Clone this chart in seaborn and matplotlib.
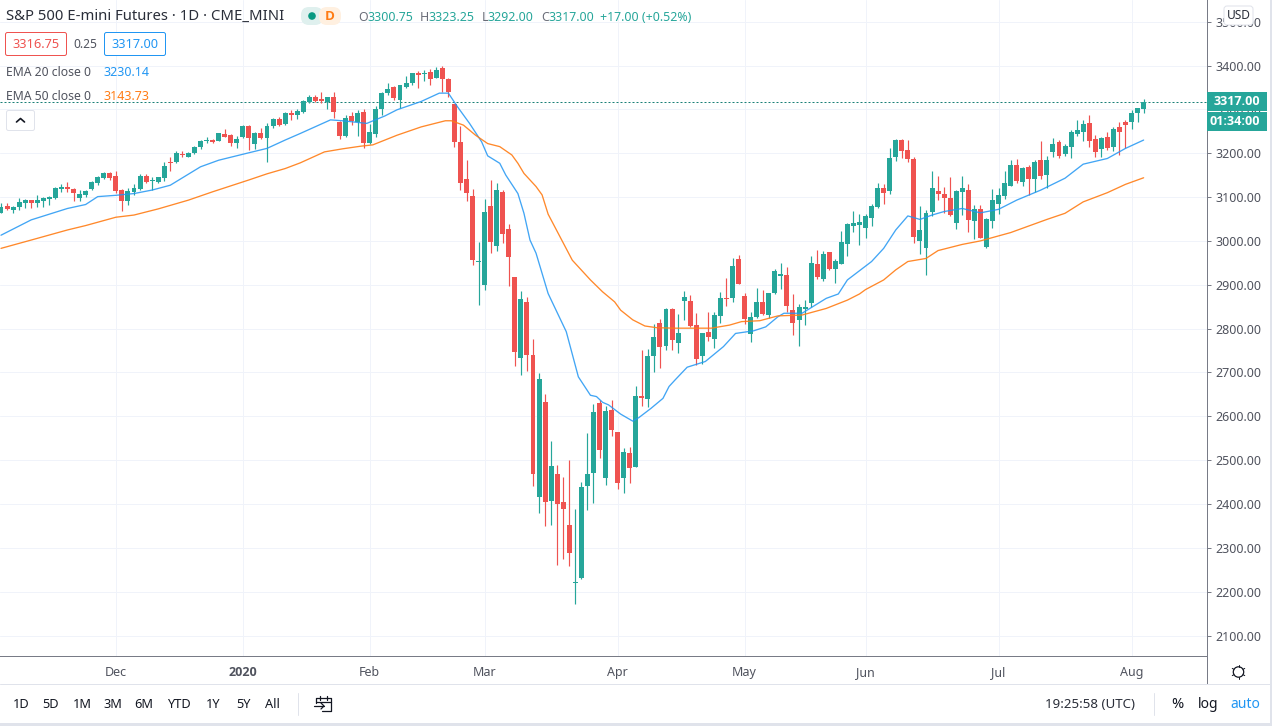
import numpy as np
import pandas as pd
import matplotlib.pyplot as plt
from matplotlib.patches import FancyBboxPatch, Rectangle, Circle
from matplotlib.transforms import Affine2D
import seaborn as sns

WIDTH, HEIGHT = 1272, 726

# daily candles, Nov 2019 - Aug 2020
opens = [3064,3080,3070,3077,3087,3093,3086,3092,3096,3097,3118,3123,3118,3098,3105,3118,3132,3143,3156,3148,
         3116,3091,3112,3118,3148,3137,3134,3143,3180,3180,3198,3192,3200,3214,3227,3229,3228,3244,3242,3223,
         3237,3262,3221,3246,3234,3262,3278,3267,3292,3287,3294,3317,3328,3324,3317,3328,3271,3239,3285,3271,
         3294,3223,3244,3301,3337,3351,3321,3351,3360,3383,3381,3385,3372,3394,3369,3312,3226,3141,3102,2952,
         2899,3080,2988,3112,3027,2918,2733,2861,2740,2416,2633,2407,2468,2405,2352,2220,2231,2441,2471,2630,
         2459,2614,2564,2459,2516,2484,2646,2639,2737,2813,2760,2845,2767,2863,2863,2808,2738,2792,2776,2829,
         2870,2870,2959,2874,2788,2827,2861,2831,2881,2921,2922,2842,2820,2845,2858,2947,2913,2975,2936,2947,
         2993,3034,3036,3029,3052,3077,3121,3114,3191,3230,3207,3187,3000,2984,3066,3114,3107,3098,3041,3112,
         3116,3045,3073,2986,3045,3084,3102,3125,3173,3134,3169,3141,3185,3150,3203,3226,3198,3214,3244,3248,
         3269,3232,3210,3237,3214,3260,3271,3271,3292,3300.75]
highs = [3087,3086,3080,3099,3096,3093,3104,3101,3102,3122,3130,3134,3120,3116,3115,3137,3149,3157,3157,3159,
         3119,3121,3130,3153,3153,3146,3146,3180,3192,3206,3205,3203,3217,3230,3236,3232,3247,3255,3244,3239,
         3264,3264,3248,3257,3270,3280,3283,3294,3299,3300,3321,3333,3333,3340,3328,3340,3274,3287,3294,3299,
         3301,3267,3308,3340,3360,3353,3356,3376,3383,3388,3390,3392,3397,3399,3372,3312,3262,3184,3118,2998,
         3096,3139,3132,3116,3039,2918,2886,2872,2776,2699,2651,2544,2489,2462,2500,2389,2450,2562,2628,2637,
         2623,2637,2564,2528,2530,2669,2751,2753,2810,2822,2847,2847,2833,2886,2877,2836,2790,2838,2838,2884,
         2915,2961,2968,2881,2838,2893,2888,2881,2936,2950,2941,2879,2856,2865,2966,2979,2977,2975,2959,3023,
         3041,3068,3061,3061,3084,3132,3130,3212,3232,3232,3230,3191,3080,3070,3159,3148,3123,3146,3116,3148,
         3130,3082,3082,3052,3118,3121,3159,3184,3187,3169,3173,3185,3228,3194,3235,3230,3221,3253,3276,3276,
         3287,3242,3237,3248,3260,3271,3276,3299,3303,3323.25]
lows = [3063,3070,3064,3070,3074,3075,3077,3078,3082,3096,3112,3112,3091,3091,3101,3116,3128,3142,3140,3110,
        3068,3082,3105,3116,3133,3116,3133,3137,3160,3178,3191,3191,3199,3210,3223,3224,3227,3236,3216,3212,
        3235,3207,3210,3232,3180,3258,3262,3264,3276,3278,3292,3315,3317,3315,3301,3280,3233,3238,3265,3239,
        3212,3221,3237,3287,3333,3321,3303,3349,3356,3349,3365,3356,3372,3340,3328,3214,3116,3091,2945,2854,
        2888,2972,2977,2995,2897,2715,2694,2703,2441,2379,2350,2352,2261,2275,2258,2172,2229,2386,2402,2505,
        2443,2555,2434,2425,2448,2484,2623,2621,2701,2710,2751,2751,2744,2820,2804,2717,2719,2772,2756,2813,
        2852,2861,2902,2810,2770,2824,2831,2824,2879,2890,2838,2785,2760,2808,2849,2913,2909,2934,2904,2947,
        2966,3020,2991,3007,3034,3075,3084,3107,3182,3189,3180,2995,2970,2922,3057,3093,3064,3057,3027,3059,
        3020,3004,3007,2984,3029,3061,3096,3125,3132,3125,3105,3112,3141,3121,3191,3189,3194,3189,3239,3228,
        3214,3191,3191,3207,3205,3196,3212,3255,3271,3292]
closes = [3078,3073,3077,3089,3093,3086,3094,3099,3101,3121,3123,3118,3109,3107,3114,3134,3146,3156,3143,3114,
          3091,3114,3121,3148,3134,3139,3146,3171,3178,3200,3197,3200,3214,3228,3229,3226,3245,3238,3223,3232,
          3262,3235,3246,3234,3262,3278,3264,3292,3287,3296,3319,3328,3319,3319,3328,3293,3239,3280,3273,3292,
          3223,3248,3301,3337,3346,3326,3356,3360,3383,3378,3383,3369,3390,3369,3340,3226,3132,3109,2956,2954,
          3066,2997,3116,3016,2963,2747,2868,2740,2468,2685,2405,2487,2400,2389,2288,2222,2439,2468,2610,2523,
          2612,2569,2448,2518,2482,2646,2642,2737,2781,2758,2845,2774,2790,2872,2806,2731,2790,2781,2831,2870,
          2868,2943,2902,2822,2827,2861,2833,2881,2931,2925,2852,2813,2849,2849,2950,2918,2970,2936,2954,2997,
          3039,3041,3043,3057,3080,3121,3109,3189,3230,3205,3187,3009,3025,3064,3121,3107,3098,3059,3114,3121,
          3048,3073,3007,3050,3093,3105,3132,3173,3137,3166,3141,3180,3148,3185,3221,3194,3216,3248,3253,3267,
          3228,3203,3235,3212,3255,3248,3264,3292,3303,3317]

# moving averages read at a set of bars
ema20_bars = [0,5,11,14,16,19,22,25,28,33,36,41,44,47,49.5,54.5,56.5,60.5,63.5,65.5,69.5,72.5,74,75.5,77.5,79.5,
              80.5,82.5,83.5,85.5,86.5,87.5,88.5,90.5,93.5,95.5,97.5,98.5,99.5,100.5,102.5,104.5,105.5,107.5,
              109.5,110.5,111.5,113.5,116.5,119.5,121.5,124.5,126.5,128.5,129.5,132.5,134.5,136.5,138.5,140,
              142,144,146,148,150,152,154,156,159,162,165,168,172,176,179,183,186,189]
ema20 = [3013,3048,3074,3083,3101,3104,3108,3116,3127,3169,3184,3201,3211,3230,3245,3276,3274,3268,3285,3299,
         3318,3337,3337,3306,3268,3226,3194,3177,3150,3108,3063,3002,2972,2880,2793,2690,2648,2645,2632,2626,
         2605,2589,2597,2618,2641,2668,2683,2712,2725,2759,2789,2795,2804,2827,2835,2835,2852,2869,2879,2911,
         2932,2953,2983,3025,3057,3049,3059,3067,3074,3064,3072,3093,3116,3143,3175,3188,3211,3230]
ema50_bars = [0,5,11,14,19,22,26,31,35,41,44,47,49.5,53.5,56.5,59.5,61.5,65.5,69.5,73.5,74.5,76.5,78.5,80.5,82.5,
              84.5,85.5,86.5,88.5,89.5,90.5,94.5,97.5,99.5,101.5,102.5,104.5,106.5,108.5,111.5,117.5,120.5,122.5,
              125.5,128.5,132.5,136.5,140,142,143,146,148,150,153,155,159,162,167,173,176,179,183,186,189]
ema50 = [2983,3002,3025,3035,3054,3059,3073,3093,3112,3139,3153,3165,3178,3203,3210,3216,3219,3241,3260,3274,
         3274,3264,3241,3222,3215,3196,3177,3154,3124,3105,3061,2956,2911,2884,2861,2842,2820,2806,2802,2801,
         2801,2808,2816,2818,2829,2831,2846,2865,2879,2889,2911,2934,2953,2960,2978,2992,3000,3019,3049,3063,
         3089,3110,3129,3144]

month_bars = [19, 40, 61, 80, 102, 123, 143, 165, 187]
month_labels = ['Dec', '2020', 'Feb', 'Mar', 'Apr', 'May', 'Jun', 'Jul', 'Aug']
price_ticks = list(range(2100, 3600, 100))
last_price = 3317.00

GREEN = '#26a69a'
RED = '#ef5350'
BLUE = '#2196f3'
ORANGE = '#ff7c14'
GRID = '#f0f3fa'
AXIS = '#787b86'
TEXT = '#50535e'
UI = '#e0e3eb'
THIN = 0.72  # one pixel at dpi 100

sns.set_style('white')
plt.rcParams['font.family'] = ['Noto Sans', 'DejaVu Sans']

candles = pd.DataFrame({'bar': np.arange(len(opens)), 'open': opens, 'high': highs, 'low': lows, 'close': closes})
up = candles[candles['close'] >= candles['open']]
down = candles[candles['close'] < candles['open']]

fig = plt.figure(figsize=(WIDTH / 100, HEIGHT / 100), dpi=100, facecolor='white')
ax = fig.add_axes([0, 1 - 656 / HEIGHT, 1206.5 / WIDTH, 656 / HEIGHT])
ax.set_xlim(-0.165, 199.4)
ax.set_ylim(2053.4, 3549.4)

ax.grid(True, color=GRID, linewidth=THIN)
ax.set_axisbelow(True)
ax.set_yticks(price_ticks)
ax.set_yticklabels(['%.2f' % p for p in price_ticks])
ax.set_xticks(month_bars)
ax.set_xticklabels(month_labels)
ax.yaxis.tick_right()
ax.tick_params(axis='y', length=3, width=THIN, color=AXIS, labelcolor=TEXT, labelsize=9.0, pad=3.5)
ax.tick_params(axis='x', length=2.5, width=THIN, color=AXIS, labelcolor=TEXT, labelsize=9.0, pad=5)
year_label = ax.get_xticklabels()[1]
year_label.set_family('Open Sans')
year_label.set_fontweight('bold')
for side in ['top', 'left']:
    ax.spines[side].set_visible(False)
for side in ['right', 'bottom']:
    ax.spines[side].set_color(AXIS)
    ax.spines[side].set_linewidth(THIN)

ax.axhline(last_price, color='#1a8077', linewidth=THIN, linestyle=(0, (2, 2)), zorder=1)

# wicks then bodies
for part, color in [(up, GREEN), (down, RED)]:
    ax.vlines(part['bar'], part['low'], part['high'], color=color, linewidth=0.85, zorder=3)
    heights = (part['close'] - part['open']).abs().clip(lower=2.2)
    ax.bar(part['bar'], heights, bottom=part[['open', 'close']].min(axis=1), width=0.82,
           color=color, linewidth=0, zorder=4)

sns.lineplot(x=ema20_bars, y=ema20, ax=ax, color=BLUE, linewidth=0.95, alpha=0.85, zorder=5)
sns.lineplot(x=ema50_bars, y=ema50, ax=ax, color=ORANGE, linewidth=0.95, alpha=0.9, zorder=5)

# figure overlay measured in pixels from the top left corner
pixels = Affine2D().scale(1 / WIDTH, -1 / HEIGHT).translate(0, 1) + fig.transFigure


def put(px, py, s, color=TEXT, size=9.0, ha='left', **kw):
    fig.text(px / WIDTH, 1 - (py + 1) / HEIGHT, s, color=color, fontsize=size, ha=ha, va='center', zorder=20, **kw)


def box(px, py, w, h, face='white', edge='none', lw=THIN, round_px=0, z=10):
    if round_px:
        patch = FancyBboxPatch((px + round_px, py + round_px), w - 2 * round_px, h - 2 * round_px,
                               boxstyle='round,pad=%f' % round_px, facecolor=face, edgecolor=edge, linewidth=lw,
                               transform=pixels, zorder=z)
    else:
        patch = Rectangle((px, py), w, h, facecolor=face, edgecolor=edge, linewidth=lw, transform=pixels, zorder=z)
    fig.add_artist(patch)


def rule(xs, ys, color=UI, lw=THIN):
    fig.add_artist(plt.Line2D(xs, ys, color=color, linewidth=lw, transform=pixels, zorder=12))


# price axis pane and footer
rule([1206.5, 1206.5], [656, 684], AXIS)
rule([0, 1270], [684, 684])
box(1270, 0, 2, 726, face=UI, z=15)
box(0, 723, 1272, 3, face=UI, z=15)

# header
put(6, 15.5, 'S&P 500 E-mini Futures · 1D · CME_MINI', color='#2a2e39', size=10.7)
box(301, 7, 22, 18, face='#dff0ee', round_px=8)
box(319, 7, 22, 18, face='#fff0e0', round_px=8)
fig.add_artist(Circle((312, 16), 3.8, facecolor='#089981', edgecolor='none', transform=pixels, zorder=12))
put(330, 15.5, 'D', color=ORANGE, size=9.6, ha='center', family='Open Sans', fontweight='bold')

ohlc_letters = ['O', 'H', 'L', 'C']
ohlc_values = ['3300.75', '3323.25', '3292.00', '3317.00']
for letter, val, px_l, px_v in zip(ohlc_letters, ohlc_values, [358, 420, 482, 541], [367, 428, 487, 548]):
    put(px_l, 16.5, letter, color='#6a6d78', size=8.9)
    put(px_v, 16.5, val, color=GREEN, size=8.9)
put(600, 16.5, '+17.00 (+0.52%)', color=GREEN, size=8.9)

box(5.5, 32.5, 61, 23, edge=RED, round_px=2)
put(36, 43.5, '3316.75', color=RED, size=9.2, ha='center')
put(85, 43.5, '0.25', color=TEXT, size=8.6, ha='center')
box(104.5, 32.5, 61, 23, edge=BLUE, round_px=2)
put(135, 43.5, '3317.00', color=BLUE, size=9.2, ha='center')

put(6, 71.5, 'EMA 20 close 0', size=8.8)
put(103, 71.5, '3230.14', color=BLUE, size=9.0)
put(6, 95.5, 'EMA 50 close 0', size=8.8)
put(103, 95.5, '3143.73', color=ORANGE, size=9.0)

box(6.5, 110.5, 28, 20, edge=UI, round_px=2)
rule([16.5, 20.5, 24.5], [122, 118.5, 122], color='#131722', lw=1.2)

# price axis badges
box(1207, 92, 59.5, 18.5, face=GREEN)
put(1237, 100.5, '3317.00', color='white', size=9.0, ha='center', family='Open Sans', fontweight='bold')
box(1207, 112, 59.5, 19, face=GREEN)
put(1235, 120.5, '01:34:00', color='white', size=9.0, ha='center', family='Open Sans', fontweight='bold')
box(1224, 6, 29, 19, edge=UI, round_px=3)
put(1238.5, 14.5, 'USD', color='#2a2e39', size=8.6, ha='center')

# bottom toolbar
for px, label in [(21, '1D'), (51, '5D'), (82, '1M'), (113, '3M'), (144, '6M'), (179, 'YTD'), (213, '1Y'), (243, '5Y'), (272, 'All')]:
    put(px, 703, label, color='#131722', size=9.2, ha='center')
rule([297.5, 297.5], [693, 715])

# calendar icon
rule([316, 316, 330.5, 330.5, 322], [703, 698, 698, 710.5, 710.5], color='#131722', lw=0.9)
rule([316, 330.5], [701.5, 701.5], color='#131722', lw=0.9)
rule([319.5, 319.5], [696, 700], color='#131722', lw=0.9)
rule([327, 327], [696, 700], color='#131722', lw=0.9)
rule([314, 324], [706, 706], color='#131722', lw=0.9)
rule([321, 324, 321], [703, 706, 709], color='#131722', lw=0.9)

put(1090, 703, '19:25:58 (UTC)', color='#2a2e39', size=9.6, ha='center')
rule([1153.5, 1153.5], [693, 715])
put(1177, 703, '%', color='#131722', size=10.5, ha='center')
put(1208, 703, 'log', color='#131722', size=10, ha='center')
put(1245, 703, 'auto', color=BLUE, size=10, ha='center')

# settings icon
fig.add_artist(Circle((1238.5, 672), 5.2, facecolor='white', edgecolor='#131722', linewidth=0.9, transform=pixels, zorder=12))
for angle in np.arange(0, 360, 60) + 30:
    dx, dy = np.cos(np.radians(angle)), np.sin(np.radians(angle))
    rule([1238.5 + 5.2 * dx, 1238.5 + 7.2 * dx], [672 + 5.2 * dy, 672 + 7.2 * dy], color='#131722')

fig.savefig('out.png', dpi=100)
